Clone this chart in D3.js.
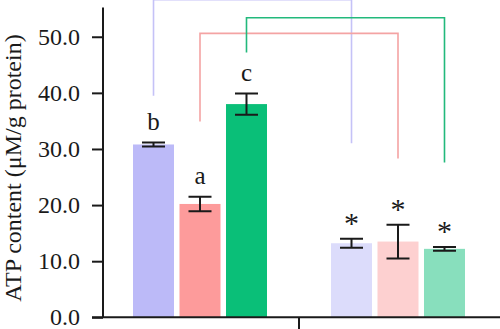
<!DOCTYPE html>
<html><head><meta charset="utf-8">
<script src="https://cdn.jsdelivr.net/npm/d3@7"></script>
<style>body{margin:0;background:#fff}svg{display:block}</style>
</head><body>
<svg id="c" width="500" height="329"></svg>
<script>
const groups = ["Group 1", "Group 2"];
const seriesNames = ["S1", "S2", "S3"];
const means = [[30.8, 20.2, 38.0], [13.2, 13.5, 12.2]];
const errs  = [[0.35, 1.3, 1.9], [0.8, 3.0, 0.35]];
const labels = [["b", "a", "c"], ["*", "*", "*"]];
const colors = [["#bcbaf8", "#fd9b9b", "#0abf78"], ["#dcdcfb", "#fdd0d0", "#88dfbd"]];
const bracketColors = ["#c5c2f7", "#f4a3a3", "#22b97c"];
const bracketTop = [56.6, 50.6, 53.4];
const bracketLeftEnd = [39.5, 34.9, 47.2];
const bracketRightEnd = [31.0, 28.3, 27.6];
const yTicks = [0, 10, 20, 30, 40, 50];

const svg = d3.select("#c");
const font = "'Liberation Serif', 'Times New Roman', serif";

const y = d3.scaleLinear().domain([0, 55]).range([317.3, 8.7]);
const x0 = d3.scaleBand().domain(groups).range([101, 497]).padding(0);
const x1 = d3.scaleBand().domain(seriesNames).range([-67, 67]).paddingInner(0.118).paddingOuter(0);

// brackets
seriesNames.forEach((s, i) => {
  const xl = x0(groups[0]) + x0.bandwidth() / 2 + x1(s) + x1.bandwidth() / 2;
  const xr = x0(groups[1]) + x0.bandwidth() / 2 + x1(s) + x1.bandwidth() / 2;
  svg.append("path")
    .attr("d", d3.line()([[xl, y(bracketLeftEnd[i])], [xl, y(bracketTop[i])], [xr, y(bracketTop[i])], [xr, y(bracketRightEnd[i])]]))
    .attr("fill", "none").attr("stroke", bracketColors[i]).attr("stroke-width", 1.6);
});

// bars
groups.forEach((g, gi) => {
  const gx = x0(g) + x0.bandwidth() / 2;
  const gSel = svg.append("g").attr("transform", `translate(${gx},0)`);
  seriesNames.forEach((s, si) => {
    const v = means[gi][si], e = errs[gi][si];
    const bx = x1(s), bw = x1.bandwidth(), cx = bx + bw / 2;
    gSel.append("rect").attr("x", bx).attr("width", bw)
      .attr("y", y(v)).attr("height", y(0) - y(v)).attr("fill", colors[gi][si]);
    const cw = 11.5;
    gSel.append("path")
      .attr("d", `M${cx - cw},${y(v + e)}H${cx + cw}M${cx},${y(v + e)}V${y(v - e)}M${cx - cw},${y(v - e)}H${cx + cw}`)
      .attr("stroke", "#1a1a1a").attr("stroke-width", 2).attr("fill", "none");
    const isStar = labels[gi][si] === "*";
    gSel.append("text").attr("x", cx).attr("y", y(v + e) - (isStar ? 5.5 : 12.5))
      .attr("text-anchor", "middle").attr("font-family", font)
      .attr("font-size", isStar ? 30 : 25).attr("fill", "#1a1a1a")
      .text(labels[gi][si]);
  });
});

// y axis
const yAxis = svg.append("g").attr("transform", "translate(103,0)")
  .call(d3.axisLeft(y).tickValues(yTicks).tickSize(11).tickPadding(12).tickFormat(d3.format(".1f")));
yAxis.select(".domain").attr("d", `M0,${y(0)}V7.5`).attr("stroke", "#1a1a1a").attr("stroke-width", 2);
yAxis.selectAll(".tick line").attr("stroke", "#1a1a1a").attr("stroke-width", 2);
yAxis.selectAll(".tick text").attr("font-family", font).attr("font-size", 24).attr("fill", "#1a1a1a");

// x axis
const xAxis = svg.append("g").attr("transform", `translate(0,${y(0)})`)
  .call(d3.axisBottom(x0).tickValues([]).tickSizeOuter(0));
xAxis.select(".domain").attr("d", "M92,0H500").attr("stroke", "#1a1a1a").attr("stroke-width", 2);
const bx = x0(groups[0]) + x0.step();
xAxis.append("line").attr("x1", bx).attr("x2", bx).attr("y1", 0).attr("y2", 13)
  .attr("stroke", "#1a1a1a").attr("stroke-width", 2);

// y title
svg.append("text").attr("transform", "translate(21,168) rotate(-90)")
  .attr("text-anchor", "middle").attr("font-family", font).attr("font-size", 24)
  .attr("fill", "#1a1a1a").text("ATP content (μM/g protein)");
</script>
</body></html>
